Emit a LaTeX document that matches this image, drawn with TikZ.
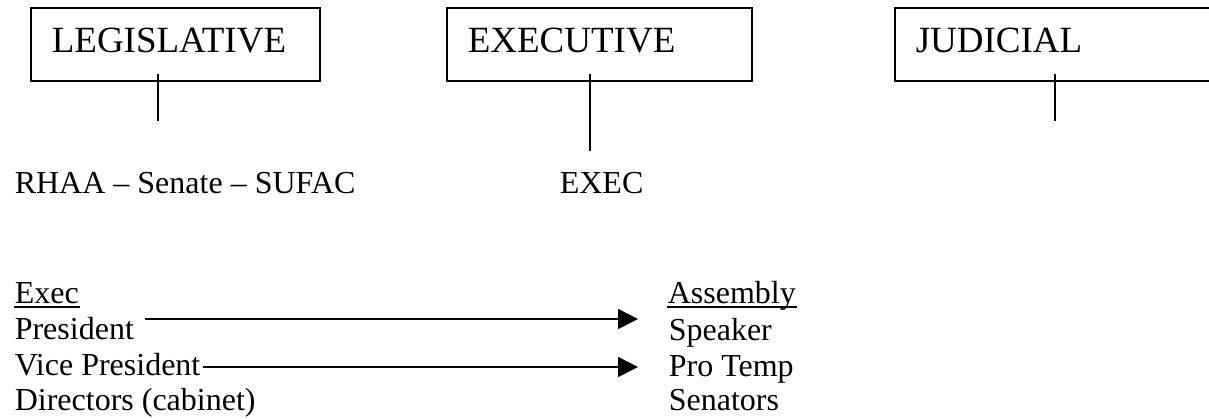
\documentclass[tikz,border=0pt]{standalone}
\usepackage{fontspec}
\setmainfont{Liberation Serif}
\usetikzlibrary{arrows.meta,calc}
\begin{document}
\begin{tikzpicture}[x=0.5pt,y=-0.5pt, line width=0.8pt,
  branchbox/.style={draw, minimum height=36.5pt, inner sep=0pt, anchor=north west},
  headtext/.style={anchor=base west, inner sep=0pt, font=\fontsize{18.5}{22}\selectfont},
  bodytext/.style={anchor=base west, inner sep=0pt, font=\fontsize{16}{19}\selectfont},
  underl/.style={line width=0.6pt},
  arrowlink/.style={-{Triangle[length=10pt,width=10pt]}}]
\useasboundingbox (0,0) rectangle (1209,418);
% branch boxes
\node[branchbox, minimum width=144.5pt] (legbox) at (30,7) {};
\node[headtext] (legtext) at (51,52) {LEGISLATIVE};
\node[branchbox, minimum width=152.5pt] (exebox) at (446,7) {};
\node[headtext] (exetext) at (467,52) {EXECUTIVE};
\begin{scope}
\clip (0,0) rectangle (1209,418);
\node[branchbox, minimum width=170pt] (judbox) at (894,7) {};
\end{scope}
\node[headtext] (judtext) at (915,52) {JUDICIAL};
% stems
\coordinate (legend) at (158,121);
\coordinate (exeend) at (590,151);
\coordinate (judend) at (1055,121);
\draw ($(legbox.south -| legend)+(0,-8)$) -- (legend);
\draw ($(exebox.south -| exeend)+(0,-8)$) -- (exeend);
\draw ($(judbox.south -| judend)+(0,-8)$) -- (judend);
% units
\node[bodytext] (legunits) at (14,193) {RHAA -- Senate -- SUFAC};
\node[bodytext] (exeunit) at (559,193) {EXEC};
% lists
\node[bodytext] (exechead) at (14,303) {Exec};
\node[bodytext] (pres) at (14,339) {President};
\node[bodytext] (vp) at (14,375) {Vice President};
\node[bodytext] (dir) at (14,410) {Directors (cabinet)};
\node[bodytext] (asshead) at (667,303) {Assembly};
\node[bodytext] (speaker) at (668,340) {Speaker};
\node[bodytext] (protemp) at (668,376) {Pro Temp};
\node[bodytext] (senators) at (668,410) {Senators};
\draw[underl] ($(exechead.base west)+(0,4)$) -- ($(exechead.base east)+(0,4)$);
\draw[underl] ($(asshead.base west)+(0,4)$) -- ($(asshead.base east)+(0,4)$);
% arrows
\draw[arrowlink] ($(pres.base east)+(10,-20)$) -- ($(speaker.base west)+(-30,-21)$);
\draw[arrowlink] ($(vp.base east)+(2,-8)$) -- ($(protemp.base west)+(-30,-9)$);
\end{tikzpicture}
\end{document}
